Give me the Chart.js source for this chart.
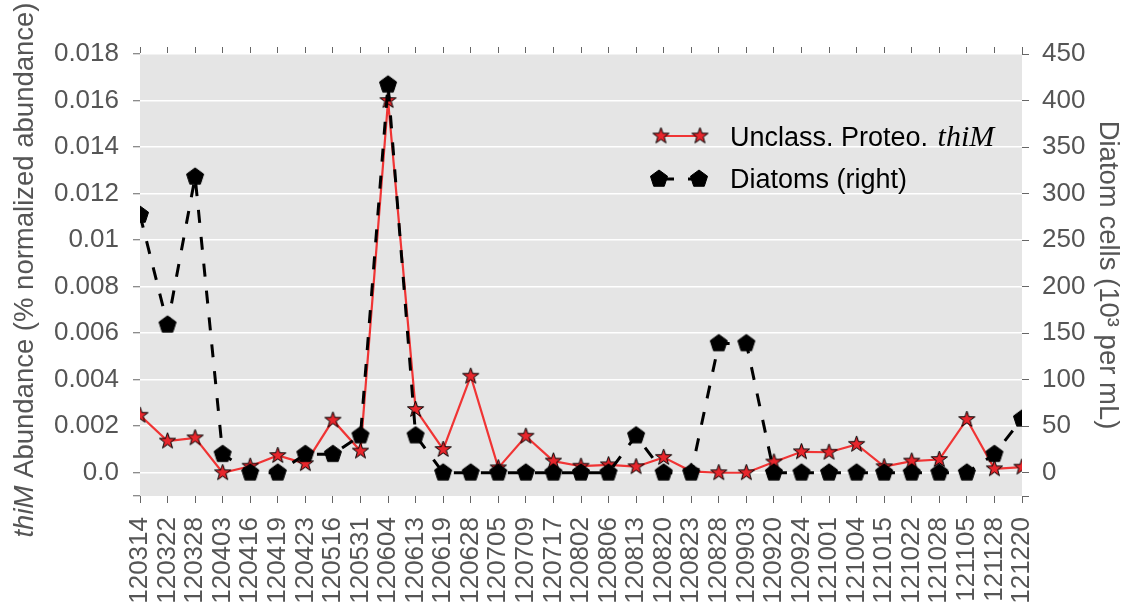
<!DOCTYPE html>
<html><head><meta charset="utf-8">
<script src="https://cdn.jsdelivr.net/npm/chart.js@4/dist/chart.umd.min.js"></script>
<style>html,body{margin:0;padding:0;background:#fff;}canvas{display:block;}</style>
</head><body>
<canvas id="c" width="1138" height="611"></canvas>
<script>
// ---------- data ----------
const dates = ['120314','120322','120328','120403','120416','120419','120423','120516','120531','120604','120613','120619','120628','120705','120709','120717','120802','120806','120813','120820','120823','120828','120903','120920','120924','121001','121004','121015','121022','121028','121105','121128','121220'];
const thiMAbundance = [0.00247,0.00136,0.0015,0.0,0.00028,0.00074,0.00039,0.00226,0.00093,0.0160,0.00272,0.00100,0.00415,0.00021,0.00157,0.00050,0.00028,0.00034,0.00026,0.00066,0.00006,0.0,0.0,0.00046,0.00090,0.00088,0.00122,0.00026,0.00050,0.00057,0.00229,0.00017,0.00024];
const diatomCells = [277,159,318,20,0,0,20,20,40,417,40,0,0,0,0,0,0,0,40,0,0,139,139,0,0,0,0,0,0,0,0,20,58];
const leftTickValues = [0,0.002,0.004,0.006,0.008,0.01,0.012,0.014,0.016,0.018];
const leftTickLabels = ['0.0','0.002','0.004','0.006','0.008','0.01','0.012','0.014','0.016','0.018'];
const rightTickValues = [0,50,100,150,200,250,300,350,400,450];
const rightTickLabels = ['0','50','100','150','200','250','300','350','400','450'];
const legendNames = ['Unclass. Proteo. ', 'thiM', 'Diatoms (right)'];
const leftTitleItalic = 'thiM';
const leftTitleRest = ' Abundance (% normalized abundance)';
const rightTitle = 'Diatom cells (10\u00B3 per mL)';

// ---------- styles ----------
const FONT = '"Liberation Sans", Arial, sans-serif';
const TXT = '#555555';
const TICKC = '#666666';
const RED_LINE = '#f03434';
const RED_FILL = '#e8262c';

function starCanvas(R, fill) {
  const s = Math.ceil(2 * R + 4), c = document.createElement('canvas');
  c.width = s; c.height = s;
  const g = c.getContext('2d'), cx = s / 2, cy = s / 2, r = R * 0.40;
  g.beginPath();
  for (let i = 0; i < 10; i++) {
    const a = -Math.PI / 2 + i * Math.PI / 5, rr = i % 2 ? r : R;
    const x = cx + rr * Math.cos(a), y = cy + rr * Math.sin(a);
    i ? g.lineTo(x, y) : g.moveTo(x, y);
  }
  g.closePath(); g.fillStyle = fill; g.fill();
  g.lineWidth = 1; g.strokeStyle = '#000'; g.stroke();
  return c;
}
function pentagonCanvas(R) {
  const s = Math.ceil(2 * R + 4), c = document.createElement('canvas');
  c.width = s; c.height = s;
  const g = c.getContext('2d'), cx = s / 2, cy = s / 2;
  g.beginPath();
  for (let i = 0; i < 5; i++) {
    const a = -Math.PI / 2 + i * 2 * Math.PI / 5;
    const x = cx + R * Math.cos(a), y = cy + R * Math.sin(a);
    i ? g.lineTo(x, y) : g.moveTo(x, y);
  }
  g.closePath(); g.fillStyle = '#000'; g.fill();
  g.lineWidth = 1; g.strokeStyle = '#000'; g.stroke();
  return c;
}
const starImg = starCanvas(8.5, RED_FILL);
const pentImg = pentagonCanvas(9);
const DASH = [13, 14];

const bgPlugin = {
  id: 'bg',
  beforeDraw(chart) {
    const { ctx, chartArea: a } = chart;
    ctx.save();
    ctx.fillStyle = '#ffffff'; ctx.fillRect(0, 0, chart.width, chart.height);
    ctx.fillStyle = '#e5e5e5'; ctx.fillRect(a.left, a.top, a.right - a.left, a.bottom - a.top);
    ctx.restore();
  }
};

const extrasPlugin = {
  id: 'extras',
  afterDraw(chart) {
    const ctx = chart.ctx;
    // left axis title with italic gene name
    ctx.save();
    ctx.translate(25, 270);
    ctx.rotate(-Math.PI / 2);
    ctx.fillStyle = TXT;
    ctx.textBaseline = 'middle';
    ctx.textAlign = 'left';
    const fI = 'italic 27.5px ' + FONT, fN = '27.5px ' + FONT;
    ctx.font = fI; const w1 = ctx.measureText(leftTitleItalic).width;
    ctx.font = fN; const w2 = ctx.measureText(leftTitleRest).width;
    const x0 = -(w1 + w2) / 2;
    ctx.font = fI; ctx.fillText(leftTitleItalic, x0, 0);
    ctx.font = fN; ctx.fillText(leftTitleRest, x0 + w1, 0);
    ctx.restore();

    // legend
    ctx.save();
    const lx1 = 661, lx2 = 700, ty = 730;
    // row 1
    ctx.strokeStyle = RED_LINE; ctx.lineWidth = 2;
    ctx.beginPath(); ctx.moveTo(lx1, 136); ctx.lineTo(lx2, 136); ctx.stroke();
    ctx.drawImage(starImg, lx1 - starImg.width / 2, 136 - starImg.height / 2);
    ctx.drawImage(starImg, lx2 - starImg.width / 2, 136 - starImg.height / 2);
    ctx.fillStyle = '#000'; ctx.textBaseline = 'alphabetic'; ctx.textAlign = 'left';
    ctx.font = '27px ' + FONT;
    ctx.fillText(legendNames[0], ty, 146);
    const wu = ctx.measureText(legendNames[0]).width;
    ctx.font = 'italic 30px "Liberation Serif", "Times New Roman", serif';
    ctx.fillText(legendNames[1], ty + wu + 2, 146);
    // row 2
    ctx.strokeStyle = '#000'; ctx.lineWidth = 3; ctx.setLineDash(DASH);
    ctx.beginPath(); ctx.moveTo(lx1, 179); ctx.lineTo(lx2, 179); ctx.stroke();
    ctx.setLineDash([]);
    ctx.drawImage(pentImg, lx1 - 2 - pentImg.width / 2, 179 - pentImg.height / 2);
    ctx.drawImage(pentImg, lx2 - 1 - pentImg.width / 2, 179 - pentImg.height / 2);
    ctx.font = '27px ' + FONT;
    ctx.fillText(legendNames[2], ty, 188);
    ctx.restore();
  }
};

const tickFont = { family: FONT, size: 26 };

new Chart(document.getElementById('c'), {
  type: 'line',
  data: {
    labels: dates,
    datasets: [
      {
        label: legendNames[0] + legendNames[1],
        data: thiMAbundance,
        yAxisID: 'y', xAxisID: 'x',
        borderColor: RED_LINE, borderWidth: 2.2,
        pointStyle: starImg, pointRadius: 9, pointHoverRadius: 9,
        tension: 0, clip: 0, order: 1
      },
      {
        label: legendNames[2],
        data: diatomCells,
        yAxisID: 'y2', xAxisID: 'x',
        borderColor: '#000', borderWidth: 3, borderDash: DASH,
        pointStyle: pentImg, pointRadius: 9, pointHoverRadius: 9,
        tension: 0, clip: 0, order: 0
      }
    ]
  },
  options: {
    responsive: false, animation: false, devicePixelRatio: 1,
    layout: { padding: 0, autoPadding: false },
    plugins: { legend: { display: false }, tooltip: { enabled: false } },
    events: [],
    scales: {
      x: {
        type: 'category', position: 'bottom', offset: false,
        border: { display: false },
        grid: { display: true, drawOnChartArea: false, drawTicks: true, tickLength: 7, tickColor: TICKC, tickWidth: 1 },
        ticks: { font: tickFont, color: TXT, autoSkip: false, minRotation: 90, maxRotation: 90, padding: 14 },
        afterFit(s) { s.height = 115; }
      },
      xTop: {
        type: 'category', position: 'top', offset: false,
        border: { display: false },
        grid: { display: true, drawOnChartArea: false, drawTicks: true, tickLength: 7, tickColor: TICKC, tickWidth: 1 },
        ticks: { display: false, autoSkip: false },
        afterFit(s) { s.height = 54; }
      },
      y: {
        type: 'linear', position: 'left', min: -0.001, max: 0.018,
        border: { display: false },
        afterBuildTicks(s) { s.ticks = [-0.001].concat(leftTickValues).map(v => ({ value: v })); },
        grid: {
          color: (c) => (c.tick && c.tick.value === -0.001) ? 'rgba(0,0,0,0)' : '#ffffff',
          lineWidth: 1.5, drawTicks: true, tickLength: 7, tickColor: TICKC, tickWidth: 1
        },
        ticks: {
          font: tickFont, color: TXT, padding: 14,
          callback: (v) => { const i = leftTickValues.indexOf(v); return i >= 0 ? leftTickLabels[i] : ''; }
        },
        afterFit(s) { s.width = 140; }
      },
      y2: {
        type: 'linear', position: 'right', min: -25, max: 450,
        border: { display: false },
        afterBuildTicks(s) { s.ticks = [-25].concat(rightTickValues).map(v => ({ value: v })); },
        grid: { drawOnChartArea: false, drawTicks: true, tickLength: 7, tickColor: TICKC, tickWidth: 1 },
        ticks: {
          font: tickFont, color: TXT, padding: 13,
          callback: (v) => { const i = rightTickValues.indexOf(v); return i >= 0 ? rightTickLabels[i] : ''; }
        },
        title: { display: true, text: rightTitle, color: TXT, font: { family: FONT, size: 27.5 }, padding: { top: 13.5, bottom: 0 } },
        afterFit(s) { s.width = 116; }
      }
    }
  },
  plugins: [bgPlugin, extrasPlugin]
});
</script>
</body></html>
